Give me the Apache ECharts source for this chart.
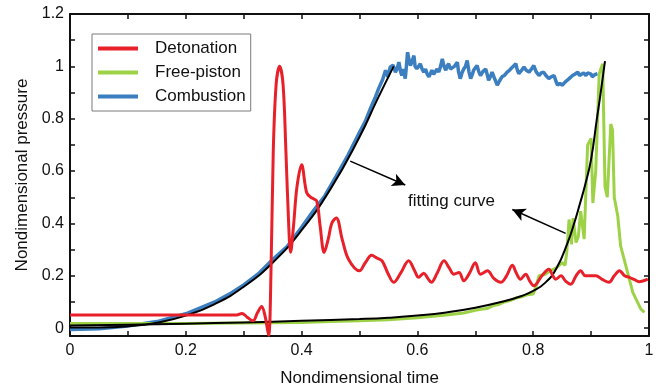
<!DOCTYPE html>
<html>
<head>
<meta charset="utf-8">
<script src="https://cdn.jsdelivr.net/npm/echarts@6/dist/echarts.min.js"></script>
<style>html,body{margin:0;padding:0;background:#fff}#c{width:661px;height:392px}</style>
</head>
<body>
<div id="c"></div>
<script>
// ---- data (x = nondimensional time, y = nondimensional pressure) ----
const seriesNames = ['Detonation', 'Free-piston', 'Combustion'];
const xTickLabels = [0, 0.2, 0.4, 0.6, 0.8, 1];
const yTickLabels = [0, 0.2, 0.4, 0.6, 0.8, 1, 1.2];
const yMinorTicks = [0, 0.1, 0.2, 0.3, 0.4, 0.5, 0.6, 0.7, 0.8, 0.9, 1, 1.1, 1.2];

const detonation = [
  [0, 0.05], [0.288, 0.05], [0.297, 0.056], [0.306, 0.042], [0.316, 0.028], [0.324, 0.06],
  [0.331, 0.083], [0.337, 0.045], [0.343, -0.027], [0.347, 0.2], [0.351, 0.67], [0.356, 0.93],
  [0.362, 1.0], [0.368, 0.93], [0.373, 0.67], [0.378, 0.38], [0.381, 0.29], [0.386, 0.39],
  [0.392, 0.54], [0.400, 0.624], [0.409, 0.516], [0.418, 0.497], [0.426, 0.486], [0.432, 0.39],
  [0.439, 0.289], [0.446, 0.34], [0.452, 0.40], [0.460, 0.421], [0.470, 0.34], [0.481, 0.263],
  [0.500, 0.219], [0.510, 0.25], [0.521, 0.278], [0.530, 0.268], [0.539, 0.257], [0.549, 0.21],
  [0.559, 0.175], [0.571, 0.21], [0.585, 0.257], [0.595, 0.22], [0.602, 0.194], [0.611, 0.21],
  [0.618, 0.19], [0.624, 0.175], [0.634, 0.21], [0.646, 0.257], [0.655, 0.23], [0.663, 0.206],
  [0.672, 0.213], [0.680, 0.181], [0.690, 0.21], [0.700, 0.25], [0.709, 0.206], [0.721, 0.219],
  [0.732, 0.19], [0.744, 0.175], [0.754, 0.2], [0.764, 0.24], [0.771, 0.21], [0.778, 0.187],
  [0.787, 0.206], [0.794, 0.18], [0.801, 0.162], [0.815, 0.2], [0.827, 0.225], [0.834, 0.2],
  [0.839, 0.187], [0.848, 0.2], [0.856, 0.18], [0.865, 0.168], [0.874, 0.2], [0.882, 0.219],
  [0.890, 0.2], [0.897, 0.2], [0.908, 0.2], [0.920, 0.185], [0.931, 0.175], [0.940, 0.2],
  [0.949, 0.219], [0.958, 0.2], [0.966, 0.194], [0.975, 0.185], [0.983, 0.177], [0.998, 0.187]
];

const freePiston = [
  [0, 0.018], [0.1, 0.018], [0.2, 0.018], [0.3, 0.02], [0.4, 0.022], [0.45, 0.025],
  [0.5, 0.028], [0.55, 0.032], [0.6, 0.04], [0.65, 0.05], [0.68, 0.058], [0.7, 0.068],
  [0.71, 0.072], [0.72, 0.075], [0.73, 0.085], [0.74, 0.09], [0.75, 0.1], [0.76, 0.105],
  [0.77, 0.115], [0.78, 0.12], [0.79, 0.128], [0.8, 0.13], [0.805, 0.16], [0.81, 0.2],
  [0.82, 0.205], [0.83, 0.22], [0.84, 0.23], [0.85, 0.25], [0.855, 0.24], [0.858, 0.29],
  [0.862, 0.415], [0.866, 0.32], [0.869, 0.42], [0.874, 0.327], [0.878, 0.35], [0.882, 0.447],
  [0.888, 0.34], [0.894, 0.70], [0.9, 0.725], [0.903, 0.478], [0.908, 0.6], [0.914, 0.972],
  [0.92, 1.01], [0.924, 0.54], [0.928, 0.5], [0.934, 0.78], [0.937, 0.757], [0.94, 0.5],
  [0.946, 0.428], [0.951, 0.314], [0.96, 0.238], [0.972, 0.137], [0.986, 0.073], [0.992, 0.06]
];

const combustion = [
  [0, -0.005], [0.05, -0.002], [0.1, 0.008], [0.15, 0.025], [0.2, 0.055], [0.25, 0.1],
  [0.275, 0.13], [0.3, 0.165], [0.325, 0.207], [0.35, 0.262], [0.375, 0.312], [0.4, 0.385],
  [0.42, 0.447], [0.44, 0.505], [0.46, 0.582], [0.48, 0.66], [0.5, 0.748], [0.51, 0.79],
  [0.52, 0.845], [0.527, 0.88], [0.533, 0.915], [0.540, 0.95], [0.545, 0.985], [0.549, 0.96],
  [0.553, 0.997], [0.558, 1.005], [0.562, 0.978], [0.565, 0.99], [0.568, 1.016], [0.571, 0.98],
  [0.573, 0.965], [0.576, 0.99], [0.579, 0.953], [0.581, 1.0], [0.583, 1.054], [0.586, 1.02],
  [0.588, 1.003], [0.591, 1.02], [0.594, 1.041], [0.596, 1.0], [0.599, 0.991], [0.602, 1.0],
  [0.605, 1.01], [0.608, 0.99], [0.611, 0.978], [0.614, 0.99], [0.617, 0.97], [0.620, 0.96],
  [0.623, 0.975], [0.625, 0.985], [0.628, 0.97], [0.631, 0.965], [0.634, 0.99], [0.637, 0.978],
  [0.640, 1.0], [0.643, 1.029], [0.646, 1.0], [0.649, 0.985], [0.651, 1.0], [0.654, 1.01],
  [0.657, 0.99], [0.660, 0.985], [0.664, 1.0], [0.669, 1.016], [0.671, 0.98], [0.674, 0.953],
  [0.677, 0.975], [0.680, 0.99], [0.683, 1.0], [0.686, 1.022], [0.689, 0.98], [0.692, 0.953],
  [0.695, 0.97], [0.697, 0.985], [0.700, 0.99], [0.703, 1.003], [0.706, 0.98], [0.709, 0.965],
  [0.713, 0.98], [0.718, 0.99], [0.721, 0.965], [0.723, 0.947], [0.726, 0.96], [0.729, 0.978],
  [0.733, 0.955], [0.738, 0.928], [0.742, 0.945], [0.746, 0.96], [0.750, 0.965], [0.755, 0.978],
  [0.759, 0.985], [0.764, 0.997], [0.767, 0.99], [0.770, 1.01], [0.772, 0.99], [0.775, 0.972],
  [0.780, 0.985], [0.784, 0.997], [0.788, 0.985], [0.793, 0.978], [0.797, 0.99], [0.801, 1.003],
  [0.805, 0.98], [0.810, 0.965], [0.814, 0.975], [0.818, 0.978], [0.822, 0.965], [0.827, 0.953],
  [0.831, 0.96], [0.836, 0.965], [0.839, 0.945], [0.842, 0.928], [0.846, 0.935], [0.850, 0.928],
  [0.855, 0.94], [0.859, 0.947], [0.863, 0.955], [0.868, 0.965], [0.872, 0.97], [0.877, 0.978],
  [0.880, 0.965], [0.883, 0.972], [0.887, 0.975], [0.891, 0.965], [0.894, 0.975], [0.897, 0.978],
  [0.900, 0.97], [0.902, 0.96], [0.906, 0.968], [0.911, 0.972]
];

const combustionFit = [
  [0, 0.002], [0.05, 0.002], [0.1, 0.007], [0.15, 0.021], [0.2, 0.048], [0.25, 0.092],
  [0.3, 0.158], [0.35, 0.25], [0.4, 0.374], [0.45, 0.532], [0.5, 0.73], [0.53, 0.87], [0.559, 1.0]
];

const freePistonFit = [
  [0, 0.01], [0.1, 0.013], [0.2, 0.017], [0.3, 0.022], [0.4, 0.028], [0.5, 0.035],
  [0.55, 0.04], [0.6, 0.048], [0.65, 0.06], [0.7, 0.078], [0.75, 0.103], [0.78, 0.123],
  [0.8, 0.142], [0.82, 0.172], [0.84, 0.228], [0.86, 0.33], [0.87, 0.395], [0.88, 0.47],
  [0.89, 0.55], [0.9, 0.645], [0.91, 0.8], [0.916, 0.89], [0.924, 1.02]
];

// annotation (data coordinates)
const annotationText = 'fitting curve';
const annotationPos = [0.659, 0.483];
const arrow1 = [[0.484, 0.638], [0.579, 0.547]];
const arrow2 = [[0.856, 0.362], [0.764, 0.453]];

// ---- chart ----
const FONT = '"Liberation Sans", Arial, sans-serif';
const chart = echarts.init(document.getElementById('c'), null, {renderer: 'canvas'});

const frameAxisLine = {show: true, onZero: false, lineStyle: {color: '#111', width: 2}};
const inTick = {show: true, inside: true, length: 5, lineStyle: {color: '#111', width: 1.5}};
const fmtNum = v => String(+(+v).toFixed(2));

chart.setOption({
  animation: false,
  backgroundColor: '#fff',
  textStyle: {fontFamily: FONT},
  grid: {left: 70, right: 12, top: 14, bottom: 53},
  legend: {
    data: seriesNames,
    orient: 'vertical',
    left: 92, top: 34,
    padding: [6, 5, 6, 4],
    itemWidth: 40, itemHeight: 14, itemGap: 7,
    itemStyle: {opacity: 0},
    lineStyle: {width: 4},
    backgroundColor: '#fff',
    borderColor: '#7a7a7a', borderWidth: 1,
    textStyle: {fontSize: 17, color: '#111', fontFamily: FONT, padding: [0, 0, 0, 12]}
  },
  xAxis: [{
    type: 'value', min: 0, max: 1, interval: 0.1, position: 'bottom',
    name: 'Nondimensional time', nameLocation: 'middle', nameGap: 34,
    nameTextStyle: {fontSize: 17, color: '#111', fontFamily: FONT},
    axisLine: frameAxisLine, axisTick: inTick, splitLine: {show: false},
    axisLabel: {fontSize: 16, color: '#111', margin: 7, fontFamily: FONT,
      formatter: v => (Math.round(v * 10) % 2 === 0 ? fmtNum(v) : '')}
  }, {
    type: 'value', min: 0, max: 1, interval: 0.1, position: 'top',
    axisLine: frameAxisLine, axisTick: inTick, axisLabel: {show: false}, splitLine: {show: false}
  }],
  yAxis: [{
    type: 'value', min: -0.03, max: 1.2, position: 'left',
    name: 'Nondimensional pressure', nameLocation: 'middle', nameGap: 38,
    nameTextStyle: {fontSize: 17, color: '#111', fontFamily: FONT},
    axisLine: frameAxisLine,
    axisTick: Object.assign({}, inTick, {customValues: yMinorTicks}),
    splitLine: {show: false},
    axisLabel: {fontSize: 16, color: '#111', margin: 6, fontFamily: FONT,
      customValues: yTickLabels, formatter: v => fmtNum(v)}
  }, {
    type: 'value', min: -0.03, max: 1.2, position: 'right',
    axisLine: frameAxisLine,
    axisTick: Object.assign({}, inTick, {customValues: yMinorTicks}),
    axisLabel: {show: false}, splitLine: {show: false}
  }],
  series: [
    {name: 'Combustion', type: 'line', data: combustion, symbol: 'none',
      lineStyle: {color: '#3b7fc0', width: 3.5}, itemStyle: {color: '#3b7fc0'}, z: 2},
    {name: 'Free-piston', type: 'line', data: freePiston, symbol: 'none',
      lineStyle: {color: '#9dd246', width: 3}, itemStyle: {color: '#9dd246'}, z: 2},
    {name: 'fit-combustion', type: 'line', data: combustionFit, symbol: 'none',
      smooth: 0.5,
      lineStyle: {color: '#000', width: 2}, z: 3,
      markLine: {
        silent: true, symbol: ['none', 'arrow'], symbolSize: [10, 13],
        lineStyle: {color: '#000', width: 1.6, type: 'solid'}, label: {show: false},
        data: [
          [{coord: arrow1[0]}, {coord: arrow1[1]}],
          [{coord: arrow2[0]}, {coord: arrow2[1]}]
        ]
      },
      markPoint: {
        silent: true, symbol: 'circle', symbolSize: 0,
        data: [{coord: annotationPos, value: annotationText}],
        label: {show: true, position: 'inside', formatter: annotationText,
          fontSize: 17, color: '#111', fontFamily: FONT}
      }
    },
    {name: 'fit-free-piston', type: 'line', data: freePistonFit, symbol: 'none',
      smooth: 0.5,
      lineStyle: {color: '#000', width: 2}, z: 3},
    {name: 'Detonation', type: 'line', data: detonation, symbol: 'none',
      smooth: 0.35,
      lineStyle: {color: '#e8202a', width: 3}, itemStyle: {color: '#e8202a'}, z: 4}
  ]
});
</script>
</body>
</html>
